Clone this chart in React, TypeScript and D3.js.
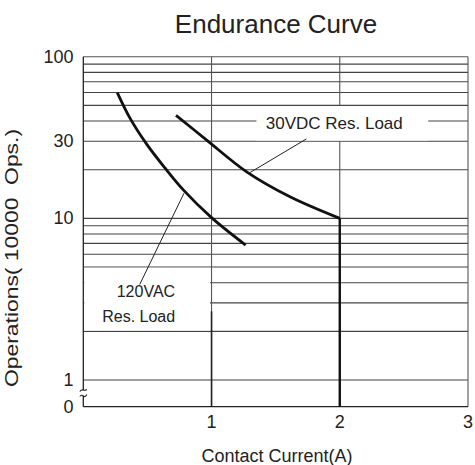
import React, { useEffect, useRef } from 'react';
import * as d3 from 'd3';

// operations (x10000), per contact current (A)
const ac120: [number, number][] = [
  [0.265, 60], [0.364, 41.7], [0.494, 28.8], [0.637, 20.5],
  [0.78, 15.0], [1.0, 10.1], [1.266, 6.83],
];
const dc30: [number, number][] = [
  [0.723, 43.4], [0.962, 30.5], [1.274, 19.4], [1.612, 13.6], [2.0, 10],
];
const dc30Drop: [number, number][] = [[2, 10], [2, 0]];

const yGrid = [90, 80, 70, 60, 50, 40, 30, 20, 10, 9, 8, 7, 6, 5, 4, 3, 2, 1];
const yTicks = [100, 30, 10, 1, 0];
const xTicks = [1, 2, 3];

const dcLeader: [number, number][] = [[1.74, 31], [1.3, 19.2]];
const acLeader: [number, number][] = [[0.785, 14.3], [0.44, 3.9]];

const App: React.FC = () => {
  const ref = useRef<SVGSVGElement | null>(null);

  useEffect(() => {
    const svg = d3.select(ref.current);
    svg.selectAll('*').remove();
    const width = 475;
    const height = 465;
    const font = 'Liberation Sans, Arial, sans-serif';

    const x = d3.scaleLinear().domain([0, 3]).range([83.3, 468]);
    const yLog = d3.scaleLog().domain([1, 100]).range([380, 56.7]);
    const yZero = 406.7;
    const y = (v: number) => (v <= 0 ? yZero : yLog(v));

    svg.attr('width', width).attr('height', height);

    // horizontal grid
    svg.append('g')
      .selectAll('line')
      .data(yGrid)
      .join('line')
      .attr('x1', x(0)).attr('x2', x(3))
      .attr('y1', d => y(d)).attr('y2', d => y(d))
      .attr('stroke', '#444').attr('stroke-width', 1.1);

    // top border (100)
    svg.append('line')
      .attr('x1', x(0)).attr('x2', x(3))
      .attr('y1', y(100)).attr('y2', y(100))
      .attr('stroke', '#555').attr('stroke-width', 1.1);

    // white boxes behind the two labels
    svg.append('rect')
      .attr('x', x(1.35)).attr('width', x(2.69) - x(1.35))
      .attr('y', y(50) + 0.8).attr('height', y(30) - y(50) - 1.6)
      .attr('fill', '#fff');
    svg.append('rect')
      .attr('x', x(0) + 1).attr('width', x(1) - x(0) - 2.5)
      .attr('y', y(5) + 0.8).attr('height', y(2) - y(5) - 1.6)
      .attr('fill', '#fff');

    // vertical grid
    svg.append('g')
      .selectAll('line')
      .data(xTicks)
      .join('line')
      .attr('x1', d => x(d)).attr('x2', d => x(d))
      .attr('y1', y(100)).attr('y2', d => (d === 2 ? y(50) : yZero))
      .attr('stroke', '#555').attr('stroke-width', 1.1);
    svg.append('line')
      .attr('x1', x(2)).attr('x2', x(2))
      .attr('y1', y(30)).attr('y2', yZero)
      .attr('stroke', '#555').attr('stroke-width', 1.1);

    // darker lower part of the 1A line
    svg.append('line')
      .attr('x1', x(1)).attr('x2', x(1))
      .attr('y1', y(2.66)).attr('y2', yZero)
      .attr('stroke', '#222').attr('stroke-width', 1.6);

    // bottom axis line
    svg.append('line')
      .attr('x1', x(0)).attr('x2', x(3))
      .attr('y1', yZero).attr('y2', yZero)
      .attr('stroke', '#222').attr('stroke-width', 1.3);

    // left axis with a break between 1 and 0
    const ax = x(0);
    svg.append('line')
      .attr('x1', ax).attr('x2', ax).attr('y1', y(100)).attr('y2', 390)
      .attr('stroke', '#222').attr('stroke-width', 1.3);
    svg.append('line')
      .attr('x1', ax).attr('x2', ax).attr('y1', 396).attr('y2', yZero)
      .attr('stroke', '#222').attr('stroke-width', 1.3);
    svg.append('path')
      .attr('d', `M${ax - 3.5},391.5 q1.8,-2.2 3.5,-1.5 t3.5,-0.5`)
      .attr('fill', 'none').attr('stroke', '#222').attr('stroke-width', 1.1);
    svg.append('path')
      .attr('d', `M${ax - 3.5},396.5 q1.8,-2.2 3.5,-0.5 t3.5,-1.5`)
      .attr('fill', 'none').attr('stroke', '#222').attr('stroke-width', 1.1);

    // curves
    const curve = d3.line<[number, number]>()
      .x(d => x(d[0]))
      .y(d => y(d[1]))
      .curve(d3.curveCatmullRom.alpha(0.5));
    const straight = d3.line<[number, number]>()
      .x(d => x(d[0]))
      .y(d => y(d[1]));

    [ac120, dc30].forEach(s => {
      svg.append('path')
        .attr('d', curve(s))
        .attr('fill', 'none').attr('stroke', '#111').attr('stroke-width', 2.8);
    });
    svg.append('path')
      .attr('d', straight(dc30Drop))
      .attr('fill', 'none').attr('stroke', '#111').attr('stroke-width', 2.4);

    // leader lines
    [dcLeader, acLeader].forEach(s => {
      svg.append('path')
        .attr('d', straight(s))
        .attr('fill', 'none').attr('stroke', '#222').attr('stroke-width', 1);
    });

    // labels
    svg.append('text')
      .attr('x', x(1.957)).attr('y', y(35.6))
      .attr('text-anchor', 'middle')
      .attr('font-family', font).attr('font-size', 17).attr('fill', '#222')
      .text('30VDC Res. Load');
    svg.append('text')
      .attr('x', x(0.716)).attr('y', y(3.27))
      .attr('text-anchor', 'end')
      .attr('font-family', font).attr('font-size', 16).attr('fill', '#222')
      .text('120VAC');
    svg.append('text')
      .attr('x', x(0.716)).attr('y', y(2.27))
      .attr('text-anchor', 'end')
      .attr('font-family', font).attr('font-size', 16).attr('fill', '#222')
      .text('Res. Load');

    // y tick labels
    svg.append('g')
      .selectAll('text')
      .data(yTicks)
      .join('text')
      .attr('x', 73.5)
      .attr('y', d => y(d) + 6)
      .attr('text-anchor', 'end')
      .attr('font-family', font).attr('font-size', 18).attr('fill', '#222')
      .text(d => String(d));

    // x tick labels
    svg.append('g')
      .selectAll('text')
      .data(xTicks)
      .join('text')
      .attr('x', d => x(d))
      .attr('y', 427.7)
      .attr('text-anchor', 'middle')
      .attr('font-family', font).attr('font-size', 18).attr('fill', '#222')
      .text(d => String(d));

    // axis titles
    svg.append('text')
      .attr('x', 277).attr('y', 461.5)
      .attr('text-anchor', 'middle')
      .attr('font-family', font).attr('font-size', 18).attr('fill', '#222')
      .text('Contact Current(A)');

    svg.append('text')
      .attr('transform', 'translate(17.5,258) rotate(-90)')
      .attr('text-anchor', 'middle')
      .attr('font-family', font).attr('font-size', 18).attr('fill', '#222')
      .attr('textLength', 258).attr('lengthAdjust', 'spacingAndGlyphs')
      .style('white-space', 'pre')
      .text('Operations( 10000  Ops.)');

    svg.append('text')
      .attr('x', 276).attr('y', 33.3)
      .attr('text-anchor', 'middle')
      .attr('font-family', font).attr('font-size', 26).attr('fill', '#222')
      .text('Endurance Curve');
  }, []);

  return (
    <svg
      ref={ref}
      style={{ position: 'absolute', left: 0, top: 0, display: 'block', background: '#fff' }}
    ></svg>
  );
};

export default App;
